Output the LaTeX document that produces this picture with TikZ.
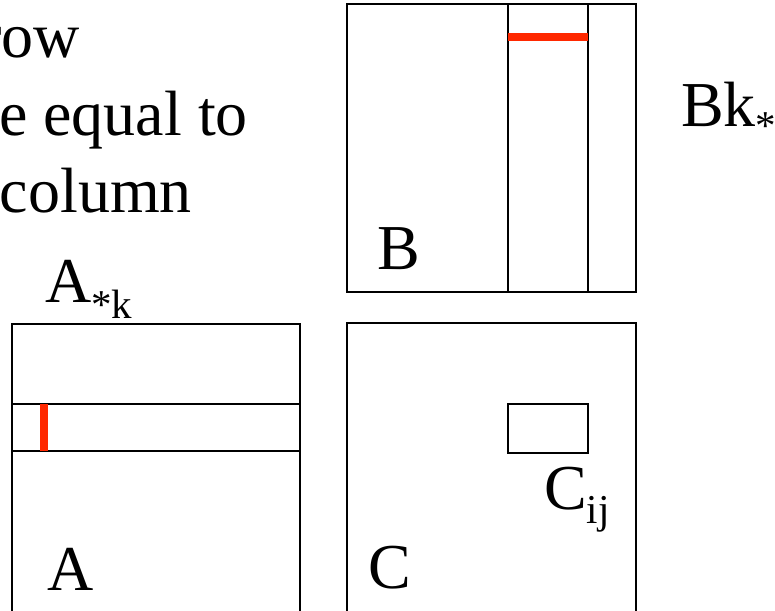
\documentclass[tikz,border=0pt]{standalone}
\usepackage{fontspec}
\setmainfont{Liberation Serif}
\usetikzlibrary{positioning}
\definecolor{hitred}{RGB}{255,40,0}
\newcommand{\bigtxt}{\fontsize{64}{76}\selectfont}
\newcommand{\subtxt}[2][-15pt]{\raisebox{#1}{\fontsize{41}{41}\selectfont #2}}

\begin{document}
\begin{tikzpicture}[
  x=1pt, y=-1pt,
  mat/.style={draw, line width=1.75pt},
  part/.style={draw, line width=1.25pt},
  hit/.style={draw=hitred, line width=8pt},
  lbl/.style={inner sep=0pt, anchor=base west, font=\bigtxt},
  note/.style={inner sep=0pt, anchor=base east, font=\bigtxt}
]
\useasboundingbox (0,0) rectangle (775,610);
% text on the left, cut by the page edge
\node[note] (t1) at (80,57)  {row};
\node[note] (t2) at (248,135) {e equal to};
\node[note] (t3) at (192,212) {column};
% matrix A with its row
\draw[mat] (12,624) -- (12,324) -- (300,324) -- (300,624);
\draw[part] (12,404) -- (300,404);
\draw[part] (12,451) -- (300,451);
\draw[hit] (44,404) -- (44,451);
\node[lbl] (Ak) at (45,302) {A\subtxt[-16pt]{*k}};
\node[lbl] (A) at (47,590) {A};
% matrix B with its column
\draw[mat] (347,4) rectangle (636,292);
\draw[part] (508,4) -- (508,292);
\draw[part] (588,4) -- (588,292);
\draw[hit] (508,37) -- (588,37);
\node[lbl] (B) at (377,269) {B};
\node[lbl] (Bk) at (681,126) {Bk\subtxt[-13pt]{*}};
% matrix C with one block
\draw[mat] (347,624) -- (347,323) -- (636,323) -- (636,624);
\draw[mat] (508,404) rectangle (588,453);
\node[lbl] (C) at (368,588) {C};
\node[lbl] (Cij) at (544,509) {C\subtxt[-14pt]{ij}};
\end{tikzpicture}
\end{document}
